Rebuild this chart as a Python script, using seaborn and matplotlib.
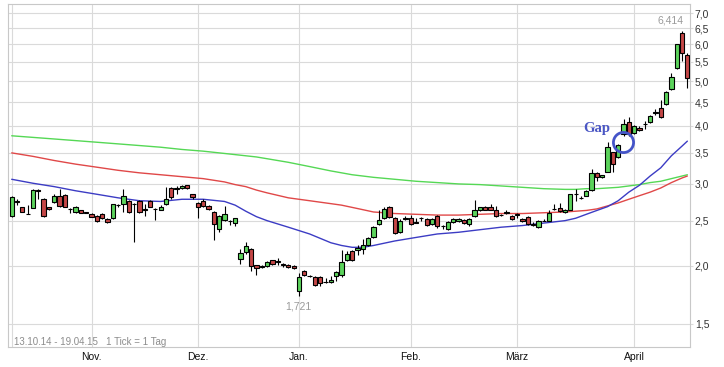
import numpy as np
import pandas as pd
import matplotlib

matplotlib.use("Agg")
import matplotlib.pyplot as plt
from matplotlib.ticker import FixedLocator, NullLocator
import seaborn as sns

# daily candles, 13.10.14 - 17.04.15 (one value per trading day)
opens = [
    2.56, 2.74, 2.67, 2.59, 2.66, 2.91, 2.79, 2.68, 2.74, 2.83,
    2.84, 2.65, 2.61, 2.64, 2.61, 2.59, 2.56, 2.59, 2.52, 2.53,
    2.70, 2.71, 2.75, 2.72, 2.76, 2.64, 2.76, 2.65, 2.64, 2.71,
    2.94, 2.93, 2.94, 2.98, 2.85, 2.73, 2.75, 2.69, 2.61, 2.40,
    2.51, 2.50, 2.47, 2.07, 2.14, 2.17, 2.01, 1.99, 2.00, 2.06,
    2.04, 2.02, 2.01, 2.00, 1.765, 1.95, 1.90, 1.89, 1.89, 1.84,
    1.84, 1.90, 1.91, 2.06, 2.15, 2.16, 2.17, 2.21, 2.30, 2.46,
    2.53, 2.67, 2.53, 2.36, 2.52, 2.53, 2.47, 2.53, 2.52, 2.46,
    2.56, 2.43, 2.40, 2.48, 2.49, 2.51, 2.46, 2.56, 2.64, 2.68,
    2.68, 2.64, 2.57, 2.60, 2.56, 2.59, 2.52, 2.55, 2.45, 2.42,
    2.50, 2.50, 2.65, 2.66, 2.61, 2.64, 2.86, 2.80, 2.83, 2.91,
    3.17, 3.10, 3.19, 3.51, 3.43, 3.84, 4.09, 3.87, 3.97, 4.03,
    4.08, 4.27, 4.37, 4.46, 4.80, 5.34, 6.34, 5.68,
]
highs = [
    2.82, 2.79, 2.67, 2.70, 2.93, 2.93, 2.80, 2.68, 2.85, 2.93,
    2.85, 2.66, 2.69, 2.64, 2.61, 2.60, 2.57, 2.60, 2.53, 2.72,
    2.71, 2.93, 2.77, 2.73, 2.77, 2.72, 2.77, 2.66, 2.70, 2.95,
    2.95, 2.97, 2.99, 2.99, 2.86, 2.74, 2.78, 2.70, 2.62, 2.57,
    2.69, 2.51, 2.53, 2.17, 2.25, 2.18, 2.01, 2.01, 2.05, 2.06,
    2.08, 2.03, 2.02, 2.01, 1.93, 1.96, 1.91, 1.90, 1.90, 1.88,
    1.90, 1.95, 2.16, 2.15, 2.16, 2.21, 2.28, 2.30, 2.43, 2.64,
    2.67, 2.69, 2.54, 2.52, 2.56, 2.57, 2.53, 2.54, 2.53, 2.53,
    2.57, 2.45, 2.49, 2.53, 2.53, 2.52, 2.53, 2.77, 2.68, 2.69,
    2.72, 2.69, 2.58, 2.63, 2.57, 2.60, 2.53, 2.56, 2.48, 2.51,
    2.52, 2.64, 2.72, 2.73, 2.65, 2.86, 2.93, 2.82, 2.91, 3.23,
    3.18, 3.14, 3.70, 3.52, 3.65, 4.14, 4.19, 4.01, 4.00, 4.10,
    4.23, 4.36, 4.54, 4.75, 5.21, 6.02, 6.414, 5.76,
]
lows = [
    2.55, 2.70, 2.61, 2.58, 2.66, 2.79, 2.55, 2.64, 2.73, 2.68,
    2.67, 2.60, 2.60, 2.60, 2.60, 2.54, 2.48, 2.52, 2.47, 2.52,
    2.68, 2.61, 2.60, 2.25, 2.60, 2.56, 2.67, 2.51, 2.63, 2.70,
    2.79, 2.86, 2.93, 2.93, 2.78, 2.53, 2.68, 2.64, 2.27, 2.36,
    2.50, 2.45, 2.44, 2.02, 2.12, 1.95, 1.91, 1.98, 1.99, 2.01,
    2.01, 1.99, 1.98, 1.97, 1.721, 1.90, 1.89, 1.81, 1.81, 1.83,
    1.83, 1.85, 1.89, 2.05, 2.05, 2.11, 2.12, 2.20, 2.29, 2.45,
    2.52, 2.53, 2.34, 2.35, 2.51, 2.45, 2.47, 2.49, 2.44, 2.45,
    2.41, 2.40, 2.39, 2.47, 2.48, 2.46, 2.43, 2.55, 2.62, 2.63,
    2.63, 2.55, 2.56, 2.58, 2.51, 2.53, 2.48, 2.45, 2.44, 2.41,
    2.49, 2.49, 2.64, 2.61, 2.60, 2.63, 2.75, 2.78, 2.82, 2.90,
    3.04, 3.09, 3.18, 3.19, 3.42, 3.81, 3.81, 3.85, 3.90, 3.95,
    4.05, 4.22, 4.17, 4.44, 4.78, 5.30, 5.52, 4.83,
]
closes = [
    2.81, 2.75, 2.61, 2.58, 2.91, 2.89, 2.56, 2.65, 2.83, 2.69,
    2.68, 2.65, 2.68, 2.60, 2.60, 2.54, 2.50, 2.53, 2.48, 2.71,
    2.70, 2.82, 2.61, 2.71, 2.61, 2.65, 2.68, 2.65, 2.67, 2.78,
    2.81, 2.94, 2.97, 2.94, 2.81, 2.67, 2.69, 2.65, 2.46, 2.56,
    2.58, 2.50, 2.53, 2.13, 2.20, 2.00, 1.98, 2.00, 2.04, 2.02,
    2.05, 2.01, 1.99, 1.98, 1.89, 1.91, 1.90, 1.82, 1.83, 1.84,
    1.86, 1.94, 2.04, 2.12, 2.06, 2.18, 2.22, 2.29, 2.42, 2.51,
    2.65, 2.54, 2.35, 2.49, 2.53, 2.46, 2.48, 2.53, 2.45, 2.52,
    2.43, 2.44, 2.48, 2.52, 2.52, 2.47, 2.52, 2.64, 2.67, 2.64,
    2.64, 2.56, 2.57, 2.61, 2.52, 2.57, 2.49, 2.46, 2.46, 2.50,
    2.50, 2.60, 2.65, 2.62, 2.64, 2.85, 2.86, 2.80, 2.90, 3.16,
    3.10, 3.13, 3.61, 3.31, 3.64, 4.04, 3.84, 3.99, 3.93, 4.04,
    4.20, 4.28, 4.19, 4.73, 5.10, 6.00, 5.75, 5.08,
]

ma_pos = [0, 4, 8, 12, 16, 20, 24, 28, 32, 36,
          40, 42, 44, 46, 48, 52, 56, 60, 62, 64,
          66, 68, 72, 76, 80, 84, 88, 92, 96, 100,
          104, 106, 108, 110, 112, 114, 116, 118, 120, 122,
          124, 126, 127]
ma_blue = [3.07, 3.01, 2.96, 2.90, 2.85, 2.80, 2.76, 2.75, 2.78, 2.78,
           2.75, 2.70, 2.62, 2.55, 2.50, 2.42, 2.34, 2.24, 2.21, 2.19,
           2.19, 2.21, 2.26, 2.30, 2.34, 2.36, 2.39, 2.42, 2.44, 2.47,
           2.50, 2.53, 2.58, 2.63, 2.68, 2.76, 2.88, 2.98, 3.12, 3.25,
           3.45, 3.62, 3.71]
ma_red = [3.50, 3.44, 3.37, 3.31, 3.26, 3.21, 3.17, 3.14, 3.11, 3.08,
          3.03, 2.99, 2.96, 2.91, 2.87, 2.80, 2.76, 2.72, 2.70, 2.67,
          2.64, 2.61, 2.59, 2.58, 2.57, 2.57, 2.58, 2.59, 2.59, 2.60,
          2.61, 2.62, 2.63, 2.65, 2.69, 2.73, 2.78, 2.83, 2.88, 2.94,
          3.02, 3.09, 3.12]
ma_green = [3.81, 3.78, 3.75, 3.72, 3.69, 3.66, 3.63, 3.60, 3.56, 3.53,
            3.49, 3.47, 3.45, 3.43, 3.40, 3.34, 3.27, 3.20, 3.17, 3.14,
            3.12, 3.10, 3.07, 3.04, 3.02, 3.00, 2.99, 2.97, 2.95, 2.93,
            2.92, 2.92, 2.93, 2.93, 2.94, 2.95, 2.97, 2.99, 3.02, 3.04,
            3.08, 3.12, 3.14]

month_labels = ["Nov.", "Dez.", "Jan.", "Feb.", "März", "April"]
y_ticks = [1.5, 2.0, 2.5, 3.0, 3.5, 4.0, 4.5, 5.0, 5.5, 6.0, 6.5, 7.0]
y_tick_labels = ["1,5", "2,0", "2,5", "3,0", "3,5", "4,0",
                 "4,5", "5,0", "5,5", "6,0", "6,5", "7,0"]
exchange_holidays = ["2014-12-24", "2014-12-25", "2014-12-26", "2014-12-31",
                     "2015-01-01", "2015-04-03", "2015-04-06"]

sns.set_style("white")
plt.rcParams["font.family"] = ["Liberation Sans", "DejaVu Sans"]

dates = pd.bdate_range("2014-10-13", "2015-04-17")
dates = dates[~dates.isin(pd.to_datetime(exchange_holidays))]
df = pd.DataFrame({"date": dates, "open": opens, "high": highs,
                   "low": lows, "close": closes})
df["idx"] = np.arange(len(df))
df["up"] = df["close"] >= df["open"]
month_start = df.groupby(df["date"].dt.to_period("M"))["idx"].min().values[1:]

fig = plt.figure(figsize=(7.24, 3.67), dpi=100)
ax = fig.add_axes([0.01146, 0.0553, 0.9416, 0.9338])
ax.set_yscale("log")

grid_c = "#dadada"
for v in y_ticks:
    ax.axhline(v, color=grid_c, lw=0.8, zorder=0)
for m in list(month_start) + [0]:
    ax.axvline(m, color=grid_c, lw=0.8, zorder=0)

# moving averages
ma = pd.DataFrame({"pos": ma_pos, "blue": ma_blue, "red": ma_red, "green": ma_green})
sns.lineplot(data=ma, x="pos", y="green", color="#55d855", lw=1.0, ax=ax, zorder=2)
sns.lineplot(data=ma, x="pos", y="red", color="#e04848", lw=1.0, ax=ax, zorder=2)
sns.lineplot(data=ma, x="pos", y="blue", color="#3c3cc4", lw=1.0, ax=ax, zorder=2)

# candles
ax.vlines(df["idx"], df["low"], df["high"], color="black", lw=0.8, zorder=3)
body_lo = df[["open", "close"]].min(axis=1)
body_h = (df["close"] - df["open"]).abs()
colors = np.where(df["up"], "#5cd35c", "#c44646")
ax.bar(df["idx"], body_h, bottom=body_lo, width=0.8, color=colors,
       edgecolor="black", linewidth=0.8, zorder=4)

# extremes
i_max = df["high"].idxmax()
i_min = df["low"].idxmin()
ax.text(i_max - 2.2, df["high"][i_max] * 1.025,
        f"{df['high'][i_max]:.3f}".replace(".", ","),
        ha="center", va="bottom", fontsize=7.5, color="#9a9a9a")
ax.text(i_min - 0.2, df["low"][i_min] / 1.028,
        f"{df['low'][i_min]:.3f}".replace(".", ","),
        ha="center", va="top", fontsize=7.5, color="#9a9a9a")

# gap marker
ax.plot([114.9], [3.70], marker="o", ms=14.5, mfc="none", mec="#4454c8",
        mew=2.0, zorder=5)
ax.text(107.4, 3.89, "Gap", family=["Liberation Serif", "DejaVu Serif"],
        fontweight="bold", fontsize=10.5, color="#4a56c4", va="baseline",
        ha="left", zorder=6)

ax.text(0.0085, 0.0146, "13.10.14 - 19.04.15   1 Tick = 1 Tag",
        transform=ax.transAxes, fontsize=7, color="#8c8c8c", va="center")

ax.set_xlim(-0.64, 127.5)
ax.set_ylim(1.337, 7.33)
ax.yaxis.set_major_locator(FixedLocator(y_ticks))
ax.yaxis.set_minor_locator(NullLocator())
ax.set_yticklabels(y_tick_labels)
ax.yaxis.tick_right()
ax.set_xticks(month_start)
ax.set_xticklabels(month_labels)
ax.tick_params(axis="y", length=2, color=grid_c, pad=1.5, labelsize=7.5,
               labelcolor="#333333")
ax.tick_params(axis="x", length=0, pad=3.5, labelsize=7.5, labelcolor="#111111")
ax.set_xlabel("")
ax.set_ylabel("")
for s in ax.spines.values():
    s.set_visible(True)
    s.set_color("#c8c8c8")
    s.set_linewidth(0.8)

fig.savefig("out.png", dpi=100)
